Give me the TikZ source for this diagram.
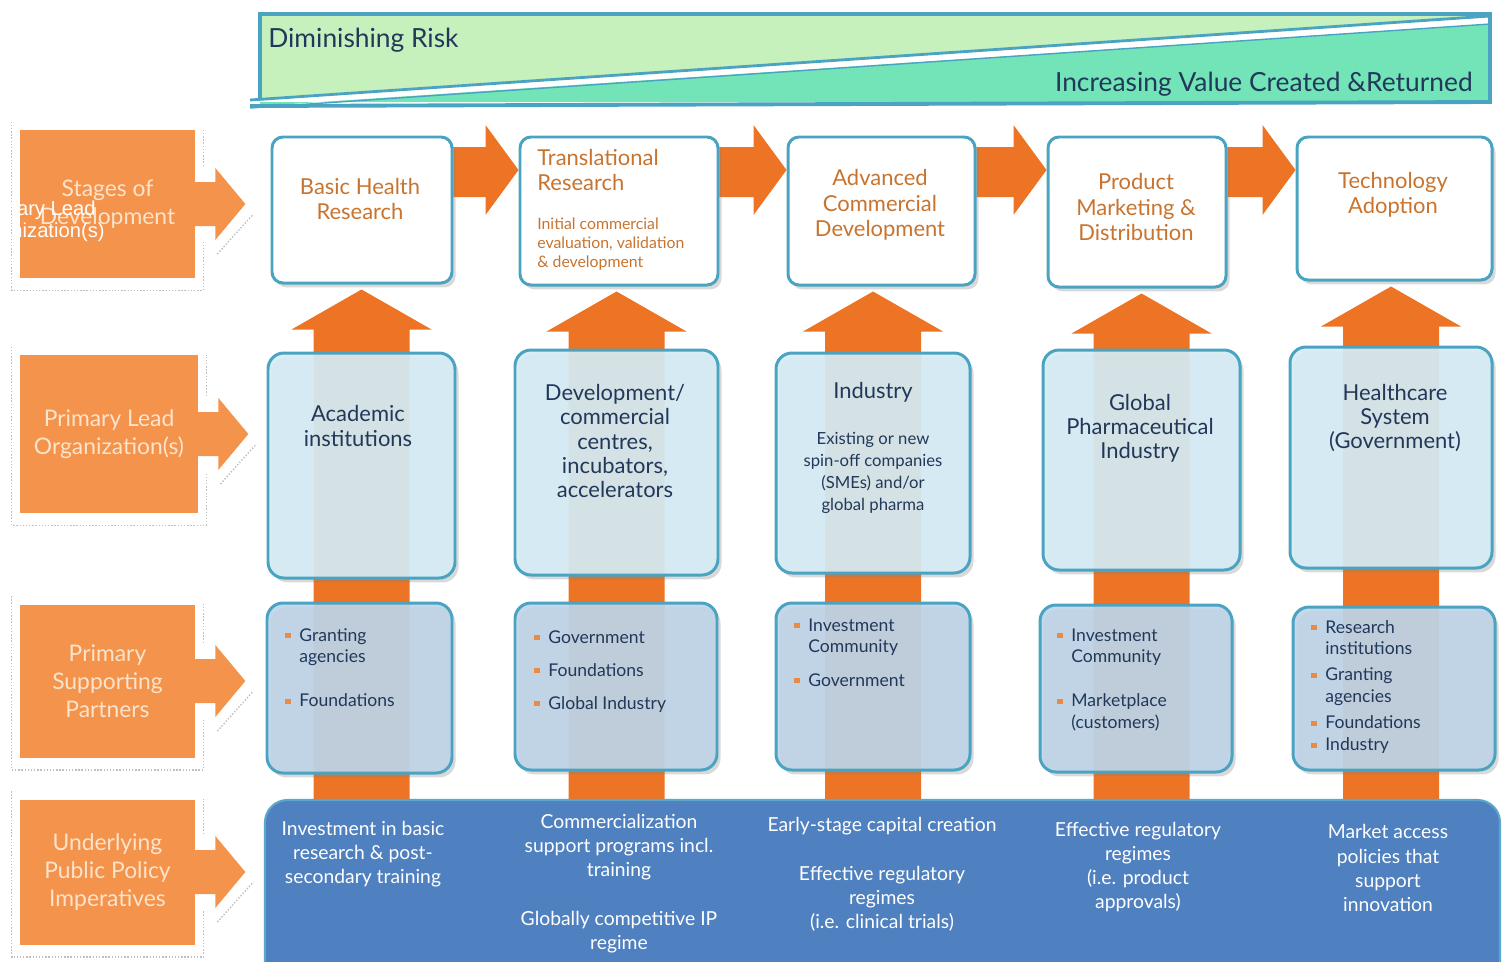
\documentclass[tikz,border=0pt]{standalone}
\usepackage{fontspec}
\setmainfont{Lato}
\newfontfamily\strayfont{Liberation Sans}
\usetikzlibrary{positioning,calc,fit,shadows}
\pgfdeclarelayer{background}
\pgfsetlayers{background,main}
\definecolor{cteal}{HTML}{4BA3C2}
\definecolor{corange}{HTML}{EC7424}
\definecolor{cside}{HTML}{F4934B}
\definecolor{csidetext}{HTML}{FCE3CC}
\definecolor{cstagetext}{HTML}{C8742F}
\definecolor{cnavy}{HTML}{22385A}
\definecolor{clead}{HTML}{D6ECF4}
\definecolor{cpartner}{HTML}{BED5E8}
\definecolor{cpolicy}{HTML}{4F80BF}
\definecolor{cpolicyedge}{HTML}{5BA6CB}
\definecolor{criskhi}{HTML}{C6F1BC}
\definecolor{crisklo}{HTML}{72E4B7}
\definecolor{cbullet}{HTML}{E98A45}
\newcommand{\dpx}{0.02cm}
\newcommand{\bul}{\textcolor{cbullet}{\rule[0.35ex]{3pt}{3pt}}}
\tikzset{
  boxshadow/.style={drop shadow={shadow xshift=2pt, shadow yshift=-2.5pt, opacity=0.3}},
  stagebox/.style={draw=cteal, line width=1.7pt, fill=white, rounded corners=0.22cm,
    inner sep=0pt, boxshadow},
  leadbox/.style={draw=cteal, line width=1.7pt, fill=clead, fill opacity=0.92,
    rounded corners=0.32cm, inner sep=0pt, boxshadow},
  partnerbox/.style={draw=cteal, line width=1.7pt, fill=cpartner, fill opacity=0.92,
    rounded corners=0.32cm, inner sep=0pt, boxshadow},
  policybox/.style={draw=cpolicyedge, line width=1.2pt, fill=cpolicy,
    rounded corners=0.45cm, inner sep=0pt},
  sidebox/.style={fill=cside, text=csidetext, align=center, inner sep=0pt,
    font=\fontsize{13}{16}\selectfont},
  sidefill/.style={fill=cside},
  sideshade/.style={draw=black!25, line width=0.8pt, densely dotted},
  blockarrow/.style={fill=corange},
  bannertext/.style={text=cnavy, inner sep=0pt, font=\fontsize{15}{17}\selectfont},
  stagetext/.style={text=cstagetext, align=center, inner sep=0pt,
    font=\fontsize{12.5}{14.5}\selectfont},
  stagesmall/.style={text=cstagetext, align=left, inner sep=0pt,
    font=\fontsize{9}{10.8}\selectfont},
  leadtext/.style={text=cnavy, align=center, inner sep=0pt,
    font=\fontsize{12.5}{13.7}\selectfont},
  leadsmall/.style={text=cnavy, align=center, inner sep=0pt,
    font=\fontsize{9.5}{12.5}\selectfont},
  listtext/.style={text=cnavy, anchor=base west, inner sep=0pt,
    font=\fontsize{10}{12.5}\selectfont},
  policytext/.style={text=white, align=center, inner sep=0pt,
    font=\fontsize{11}{13.7}\selectfont}
}
% block arrow from one stage box to the next
\newcommand{\stagearrow}[2]{%
  \fill[blockarrow] (#1.east |- shafttop) -- ($(#2.west |- shafttop)+(-33,0)$)
    -- ($(#2.west |- headtop)+(-33,0)$) -- (#2.west |- headtip)
    -- ($(#2.west |- headbot)+(-33,0)$) -- ($(#2.west |- shaftbot)+(-33,0)$)
    -- (#1.east |- shaftbot) -- cycle;}
% upward arrow from the policy box through a column into its stage box
\newcommand{\leadarrow}[2]{%
  \fill[blockarrow] ($(#1.north |- pol.north)+(-48,0)$) -- ($(#1.north |- #2.south)+(-48,45)$)
    -- ($(#1.north |- #2.south)+(-70,45)$) -- ($(#1.north |- #2.south)+(0,5)$)
    -- ($(#1.north |- #2.south)+(70,45)$) -- ($(#1.north |- #2.south)+(48,45)$)
    -- ($(#1.north |- pol.north)+(48,0)$) -- cycle;}
\newcommand{\sidearrow}[1]{%
  \fill[sidefill] ($(#1.east)+(-2,-22)$) -- ++(22,0) -- ++(0,-14) -- ($(#1.east)+(50,0)$)
    -- ($(#1.east)+(20,36)$) -- ++(0,-14) -- ($(#1.east)+(-2,22)$) -- cycle;
  \draw[sideshade] ($(#1.north west)+(-8,-8)$) -- ($(#1.south west)+(-8,12)$)
    -- ($(#1.south east)+(8,12)$) -- ($(#1.east)+(8,38)$);
  \draw[sideshade] ($(#1.east)+(8,-38)$) -- ($(#1.north east)+(8,0)$);
  \draw[sideshade] ($(#1.east)+(22,50)$) -- ($(#1.east)+(58,10)$);}

\begin{document}
\begin{tikzpicture}[x=0.02cm, y=-0.02cm]
  \useasboundingbox (0,0) rectangle (1502,961);
  \clip (0,0) rectangle (1502,961);

  % risk / value banner
  \fill[criskhi] (260,14) -- (1490,14) -- (1490,16) -- (260,98) -- cycle;
  \fill[crisklo] (260,106) -- (1490,24) -- (1490,102) -- (260,102) -- cycle;
  \draw[cteal, line width=1.6pt] (250,100) -- (1490,16);
  \draw[cteal, line width=0.8pt] (250,108) -- (1490,24);
  \draw[cteal, line width=2.2pt] (260,100) -- (260,14) -- (1490,14) -- (1490,102) -- (250,106);
  \node[bannertext, anchor=west] (risk) at (268,40) {Diminishing Risk};
  \node[bannertext, anchor=east] (value) at (1473,84) {Increasing Value Created \&Returned};

  % row labels
  \node[sidebox, minimum width=175*\dpx, minimum height=148*\dpx] (stages) at (107.5,204) {Stages of\\Development};
  \node[sidebox, minimum width=178*\dpx, minimum height=158*\dpx] (leadorg) at (109,434) {Primary Lead\\Organization(s)};
  \node[sidebox, minimum width=175*\dpx, minimum height=153*\dpx] (partners) at (107.5,681) {Primary\\Supporting\\Partners};
  \node[sidebox, minimum width=175*\dpx, minimum height=145*\dpx] (policy) at (107.5,872) {Underlying\\Public Policy\\Imperatives};
  \sidearrow{stages}
  \sidearrow{leadorg}
  \sidearrow{partners}
  \sidearrow{policy}
  \node[text=white, align=center, anchor=east, inner sep=0pt,
    font=\strayfont\fontsize{11.5}{12.5}\selectfont] (stray) at (105,221) {Primary Lead\\Organization(s)};

  % stages of development
  \node[stagebox, fit={(272,137) (452,283)}] (s1) {};
  \node[stagebox, fit={(520,137) (718,285)}] (s2) {};
  \node[stagebox, fit={(788,137) (975,285)}] (s3) {};
  \node[stagebox, fit={(1048,137) (1226,287)}] (s4) {};
  \node[stagebox, fit={(1297,137) (1492,280)}] (s5) {};
  \node[stagetext] (s1t) at (360,199) {Basic Health\\Research};
  \node[stagetext, align=left, anchor=west] (s2t) at (537,170) {Translational\\Research};
  \node[stagesmall, anchor=west] (s2s) at (537,244) {Initial commercial\\evaluation, validation\\\& development};
  \node[stagetext] (s3t) at (880,205) {Advanced\\Commercial\\Development};
  \node[stagetext] (s4t) at (1136,207) {Product\\Marketing \&\\Distribution};
  \node[stagetext] (s5t) at (1393,195) {Technology\\Adoption};

  % lead organizations
  \node[leadbox, fit={(268,353) (455,578)}] (l1) {};
  \node[leadbox, fit={(515,350) (718,575)}] (l2) {};
  \node[leadbox, fit={(776,353) (970,573)}] (l3) {};
  \node[leadbox, fit={(1043,350) (1240,570)}] (l4) {};
  \node[leadbox, fit={(1290,347) (1492,568)}] (l5) {};
  \node[leadtext] (l1t) at (358,426) {Academic\\institutions};
  \node[leadtext] (l2t) at (615,441) {Development/\\commercial\\centres,\\incubators,\\accelerators};
  \node[leadtext] (l3t) at (873,392) {Industry};
  \node[leadsmall] (l3s) at (873,473) {Existing or new\\spin-off companies\\(SMEs) and/or\\global pharma};
  \node[leadtext] (l4t) at (1140,428) {Global\\Pharmaceutical\\Industry};
  \node[leadtext] (l5t) at (1395,418) {Healthcare\\System\\(Government)};

  % supporting partners
  \node[partnerbox, fit={(267,603) (452,773)}] (p1) {};
  \node[partnerbox, fit={(515,603) (717,770)}] (p2) {};
  \node[partnerbox, fit={(776,603) (970,770)}] (p3) {};
  \node[partnerbox, fit={(1040,605) (1232,772)}] (p4) {};
  \node[partnerbox, fit={(1293,607) (1495,770)}] (p5) {};
  \node[listtext] (p1t) at (285,641) {\begin{tabular}[t]{@{}l@{\hspace{5pt}}l@{}}
    \bul & Granting\\ & agencies\\[12.5pt] \bul & Foundations\end{tabular}};
  \node[listtext] (p2t) at (534,643) {\begin{tabular}[t]{@{}l@{\hspace{5pt}}l@{}}
    \bul & Government\\[6.3pt] \bul & Foundations\\[6.3pt] \bul & Global Industry\end{tabular}};
  \node[listtext] (p3t) at (794,631) {\begin{tabular}[t]{@{}l@{\hspace{5pt}}l@{}}
    \bul & Investment\\ & Community\\[6.3pt] \bul & Government\end{tabular}};
  \node[listtext] (p4t) at (1057,641) {\begin{tabular}[t]{@{}l@{\hspace{5pt}}l@{}}
    \bul & Investment\\ & Community\\[12.5pt] \bul & Marketplace\\ & (customers)\end{tabular}};
  \node[listtext] (p5t) at (1311,633) {\begin{tabular}[t]{@{}l@{\hspace{5pt}}l@{}}
    \bul & Research\\ & institutions\\[2.3pt] \bul & Granting\\ & agencies\\[2.3pt]
    \bul & Foundations\\ \bul & Industry\end{tabular}};

  % public policy
  \node[policybox, fit={(265,800) (1500,990)}] (pol) {};
  \node[policytext] (pol1) at (363,854) {Investment in basic\\research \& post-\\secondary training};
  \node[policytext] (pol2) at (619,847) {Commercialization\\support programs incl.\\training};
  \node[policytext] (pol2b) at (619,932) {Globally competitive IP\\regime};
  \node[policytext] (pol3) at (882,826) {Early-stage capital creation};
  \node[policytext] (pol3b) at (882,899) {Effective regulatory\\regimes\\(i.e. clinical trials)};
  \node[policytext] (pol4) at (1138,867) {Effective regulatory\\regimes\\(i.e. product\\approvals)};
  \node[policytext] (pol5) at (1388,868) {Market access\\policies that\\support\\innovation};

  % orange block arrows behind the boxes
  \coordinate (headtop) at (0,125);
  \coordinate (shafttop) at (0,147);
  \coordinate (headtip) at (0,170);
  \coordinate (shaftbot) at (0,197);
  \coordinate (headbot) at (0,215);
  \begin{pgfonlayer}{background}
    \stagearrow{s1}{s2}
    \stagearrow{s2}{s3}
    \stagearrow{s3}{s4}
    \stagearrow{s4}{s5}
    \leadarrow{l1}{s1}
    \leadarrow{l2}{s2}
    \leadarrow{l3}{s3}
    \leadarrow{l4}{s4}
    \leadarrow{l5}{s5}
  \end{pgfonlayer}
\end{tikzpicture}
\end{document}
